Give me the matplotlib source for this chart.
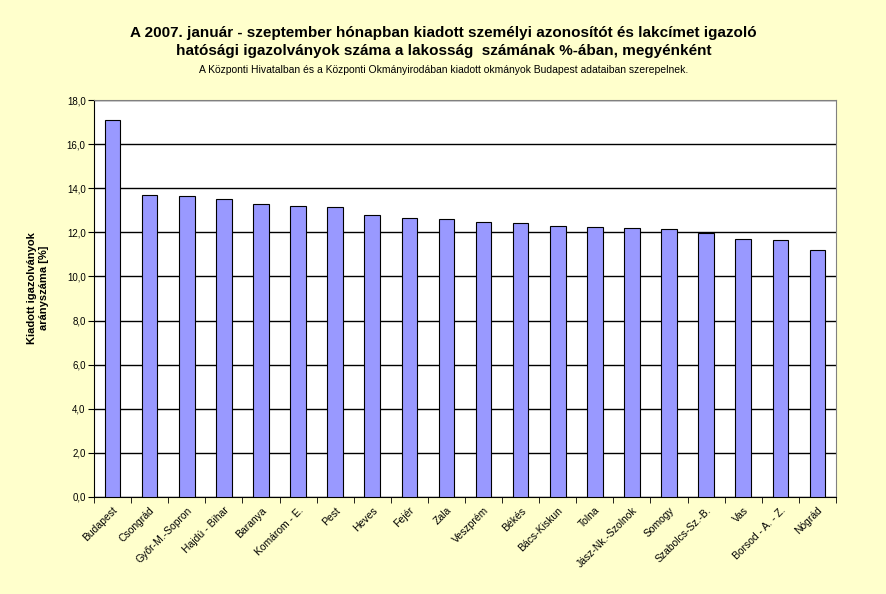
import numpy as np
import matplotlib
matplotlib.use("Agg")
import matplotlib.pyplot as plt
from matplotlib.ticker import FuncFormatter, MultipleLocator

plt.rcParams['font.family'] = ['Liberation Sans', 'DejaVu Sans']

MEGYEK = ['Budapest', 'Csongrád', 'Győr-M.-Sopron', 'Hajdú - Bihar', 'Baranya',
          'Komárom - E.', 'Pest', 'Heves', 'Fejér', 'Zala', 'Veszprém', 'Békés',
          'Bács-Kiskun', 'Tolna', 'Jász-Nk.-Szolnok', 'Somogy', 'Szabolcs-Sz.-B.',
          'Vas', 'Borsod - A. - Z.', 'Nógrád']
ARANY = [17.09, 13.68, 13.64, 13.50, 13.27, 13.18, 13.14, 12.77, 12.64, 12.59,
         12.45, 12.41, 12.27, 12.23, 12.18, 12.14, 11.99, 11.68, 11.64, 11.18]

TITLE = ('A 2007. január - szeptember hónapban kiadott személyi azonosítót és lakcímet igazoló\n'
         'hatósági igazolványok száma a lakosság  számának %-ában, megyénként')
SUBTITLE = 'A Központi Hivatalban és a Központi Okmányirodában kiadott okmányok Budapest adataiban szerepelnek.'
YLABEL = 'Kiadott igazolványok\narányszáma [%]'

W, H = 887, 594
fig = plt.figure(figsize=(W / 100, H / 100), dpi=100, facecolor='#FFFFCC')
ax = fig.add_axes([94 / W, 1 - 497 / H, (836 - 94) / W, (497 - 100) / H])
ax.set_facecolor('white')

x = np.arange(len(MEGYEK))
ax.bar(x, ARANY, width=0.42, color='#9999FF', edgecolor='black', linewidth=0.8, zorder=3)

ax.set_ylim(0, 18)
ax.set_xlim(-0.5, len(MEGYEK) - 0.5)
ax.yaxis.set_major_locator(MultipleLocator(2))
ax.yaxis.set_major_formatter(FuncFormatter(lambda v, p: f'{v:.1f}'.replace('.', ',')))
ax.grid(axis='y', color='black', linewidth=1.0, zorder=1)
ax.tick_params(axis='y', direction='out', length=4, labelsize=7, pad=2)

ax.set_xticks(x)
ax.set_xticklabels(MEGYEK, rotation=45, ha='right', rotation_mode='anchor', fontsize=7.5)
ax.tick_params(axis='x', length=0, pad=6)
ax.set_xticks(np.arange(-0.5, len(MEGYEK), 1), minor=True)
ax.tick_params(axis='x', which='minor', direction='out', length=4)

for s in ['top', 'right']:
    ax.spines[s].set_color('#808080')
for s in ['left', 'bottom']:
    ax.spines[s].set_color('black')

fig.text(0.5, 1 - 42 / H, TITLE, ha='center', va='center', fontsize=11,
         fontweight='bold', linespacing=1.45)
fig.text(0.5, 1 - 70 / H, SUBTITLE, ha='center', va='center', fontsize=7.5)
fig.text(38 / W, 1 - 288 / H, YLABEL, ha='center', va='center', rotation=90,
         fontsize=8, fontweight='bold')

fig.savefig('out.png', dpi=100, facecolor=fig.get_facecolor())
